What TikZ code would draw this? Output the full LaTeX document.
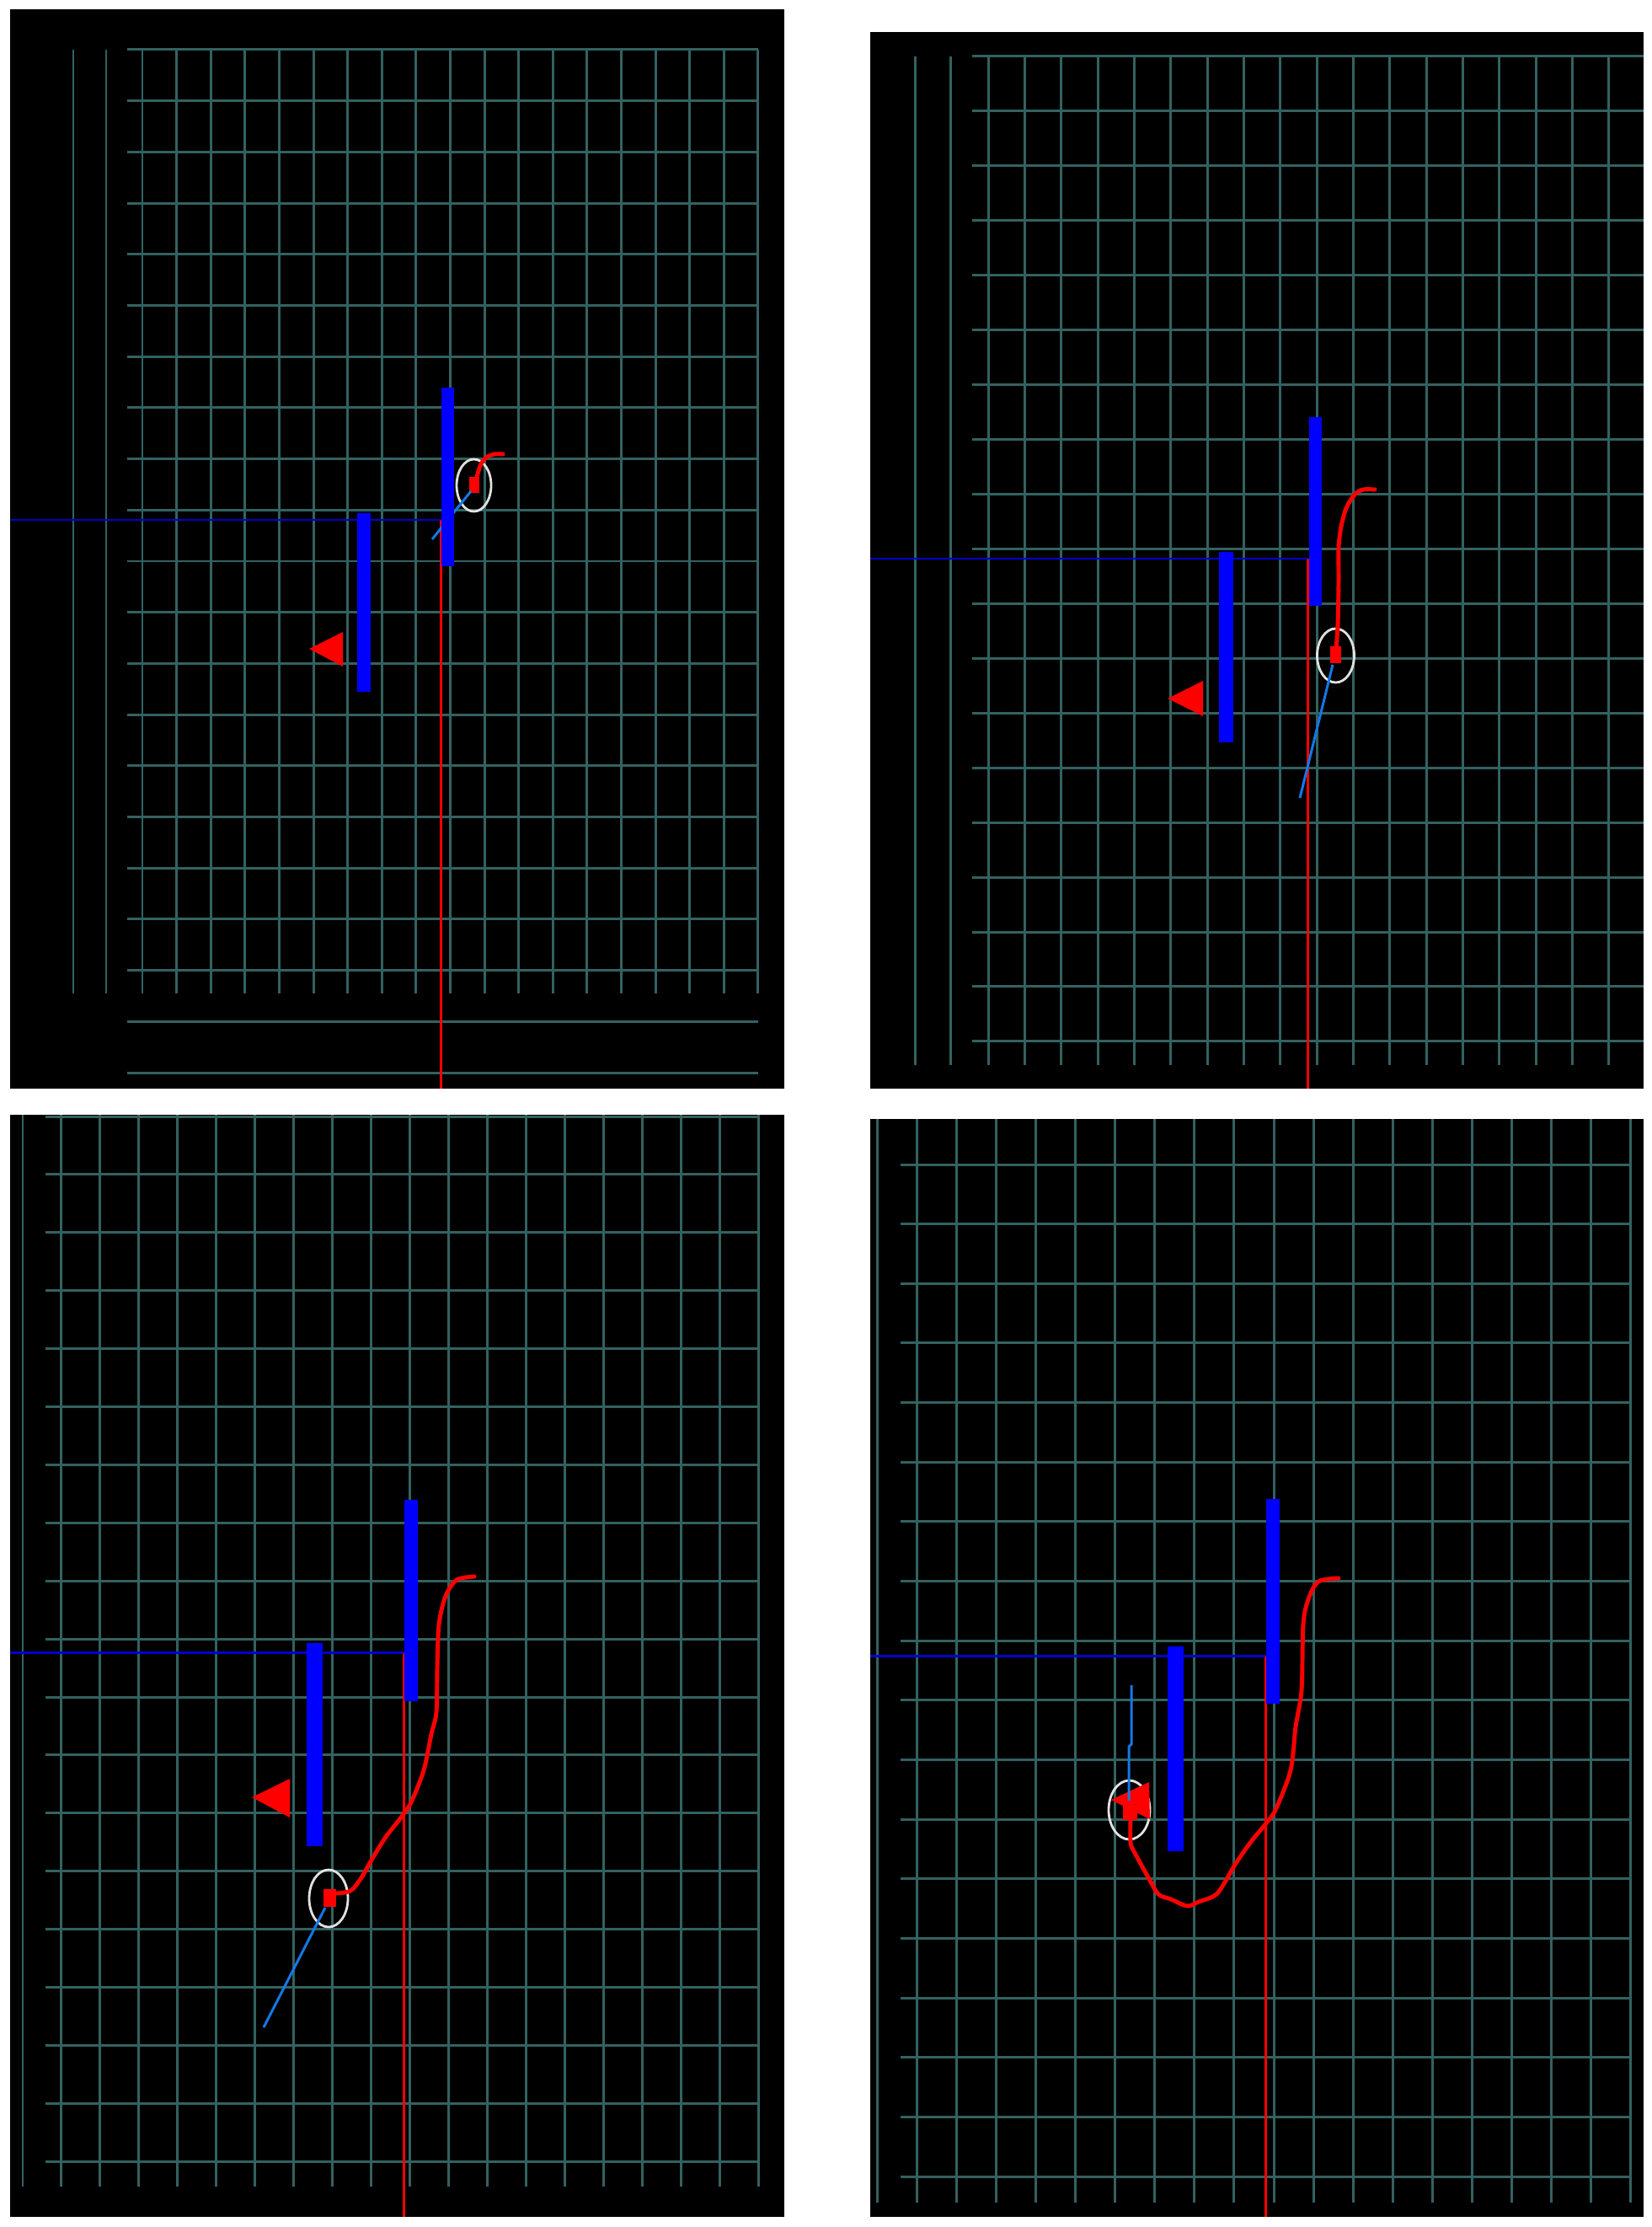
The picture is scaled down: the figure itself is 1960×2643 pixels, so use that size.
\documentclass[tikz,border=0pt]{standalone}
\usetikzlibrary{calc}
\definecolor{gridc}{RGB}{50,98,96}
\definecolor{hblue}{RGB}{0,0,205}
\definecolor{barblue}{RGB}{0,0,255}
\definecolor{lblue}{RGB}{20,120,230}
\definecolor{ringc}{RGB}{225,225,225}
\definecolor{redc}{RGB}{255,0,0}
\tikzset{
  gridline/.style={draw=gridc, line width=0.85pt},
  panelbg/.style={fill=black},
  hline/.style={draw=hblue, line width=0.85pt},
  vline/.style={draw=redc, line width=0.85pt},
  trail/.style={draw=redc, line width=1.4pt, line join=round, line cap=round},
  aim/.style={draw=lblue, line width=0.85pt},
  barfill/.style={fill=barblue},
  ring/.style={draw=ringc, line width=0.8pt},
  marker/.style={fill=redc},
}
\begin{document}
\begin{tikzpicture}[x=0.01cm,y=-0.01cm]
\fill[white] (0,0) rectangle (1960,2643);
\useasboundingbox (0,0) rectangle (1960,2643);

% ================= Panel 1 =================
\fill[panelbg] (12,11) rectangle (931,1292);
\foreach \xx in {87,126} {\draw[gridline] (\xx,59) -- (\xx,1179);}
\foreach \k in {0,...,18} {\pgfmathsetmacro\xx{169+40.6*\k}\draw[gridline] (\xx,59) -- (\xx,1179);}
\foreach \k in {0,...,20} {\pgfmathsetmacro\yy{59+60.7*\k}\draw[gridline] (151,\yy) -- (900,\yy);}
\draw[ring] (562.5,576) ellipse [x radius=20.5, y radius=31];
\draw[vline] (523,617) -- (523,1292);
\draw[hline] (12,617) -- (523,617);
\draw[trail] plot[smooth] coordinates {(563,577) (570,553) (577,543) (587,539) (597,539)};
\fill[marker] (367,770) -- (407,750) -- (407,791) -- cycle;
\fill[marker] (557,566) rectangle (569,585);
\draw[aim] (559,583) -- (513,640);
\fill[barfill] (524,460) rectangle (539,672);
\fill[barfill] (424,609) rectangle (440,821);

% ================= Panel 2 =================
\fill[panelbg] (1033,38) rectangle (1951,1292);
\begin{scope}
\clip (1033,38) rectangle (1951,1292);
\foreach \xx in {1086,1128} {\draw[gridline] (\xx,67) -- (\xx,1264);}
\foreach \k in {0,...,17} {\pgfmathsetmacro\xx{1173+43.35*\k}\draw[gridline] (\xx,67) -- (\xx,1264);}
\foreach \k in {0,...,18} {\pgfmathsetmacro\yy{67+64.94*\k}\draw[gridline] (1154,\yy) -- (1951,\yy);}
\end{scope}
\draw[ring] (1585.5,778) ellipse [x radius=22, y radius=32];
\draw[vline] (1552,663) -- (1552,1292);
\draw[hline] (1033,663) -- (1552,663);
\draw[trail] plot[smooth] coordinates {(1586,770) (1588,742) (1589,690) (1589,650) (1592,625) (1598,603) (1608,587) (1618,581) (1632,581)};
\fill[marker] (1386,829) -- (1428,808) -- (1428,850) -- cycle;
\fill[marker] (1579,767) rectangle (1592,787);
\draw[aim] (1582,789) -- (1543,947);
\fill[barfill] (1554,495) rectangle (1569,719);
\fill[barfill] (1447,655) rectangle (1464,881);

% ================= Panel 3 =================
\fill[panelbg] (12,1323) rectangle (931,2631);
\foreach \k in {0,...,19} {\pgfmathsetmacro\xx{27+45.95*\k}\draw[gridline] (\xx,1323) -- (\xx,2595);}
\foreach \k in {0,...,18} {\pgfmathsetmacro\yy{1325+68.9*\k}\draw[gridline] (54,\yy) -- (900,\yy);}
\draw[ring] (390,2253) ellipse [x radius=23, y radius=34];
\draw[vline] (479,1961) -- (479,2631);
\draw[hline] (12,1961) -- (479,1961);
\draw[trail] plot[smooth] coordinates {(399,2247) (416,2244) (428,2230) (443,2204) (458,2180) (476,2157) (488,2139) (503,2101) (512,2058) (518,2032) (519,1980) (521,1928) (529,1894) (542,1875) (563,1871)};
\fill[marker] (299,2133) -- (344,2111) -- (344,2157) -- cycle;
\fill[marker] (384,2242) rectangle (399,2263);
\draw[aim] (386,2264) -- (313,2406);
\fill[barfill] (480,1780) rectangle (496,2019);
\fill[barfill] (364,1950) rectangle (383,2191);

% ================= Panel 4 =================
\fill[panelbg] (1033,1328) rectangle (1951,2631);
\foreach \k in {0,...,19} {\pgfmathsetmacro\xx{1041+47.1*\k}\draw[gridline] (\xx,1328) -- (\xx,2614);}
\foreach \k in {0,...,17} {\pgfmathsetmacro\yy{1382+70.65*\k}\draw[gridline] (1069,\yy) -- (1936,\yy);}
\draw[ring] (1340.5,2148) ellipse [x radius=24.5, y radius=35];
\draw[vline] (1502,1965) -- (1502,2631);
\draw[hline] (1033,1965) -- (1502,1965);
\draw[trail] plot[smooth] coordinates {(1342,2160) (1342,2187) (1347,2199) (1363,2228) (1375,2248) (1390,2254) (1409,2262) (1423,2257) (1445,2247) (1466,2213) (1484,2187) (1502,2165) (1514,2148) (1532,2101) (1538,2049) (1545,2006) (1547,1928) (1553,1898) (1565,1877) (1589,1873)};
\fill[marker] (1319,2136) -- (1364,2115) -- (1365,2159) -- cycle;
\fill[marker] (1333,2137) rectangle (1350,2160);
\draw[aim] (1343,2000) -- (1343,2070) -- (1340,2073) -- (1340,2137);
\fill[barfill] (1503,1779) rectangle (1519,2022);
\fill[barfill] (1386,1954) rectangle (1405,2197);
\end{tikzpicture}
\end{document}
